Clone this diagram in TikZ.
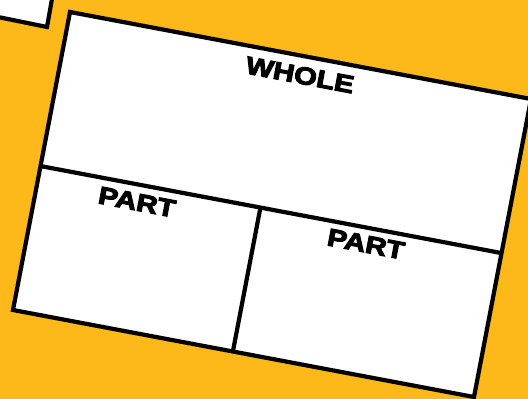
\documentclass[tikz,border=0pt]{standalone}
\usepackage{fontspec}
\setmainfont{Liberation Sans}[FakeStretch=1.2, BoldFeatures={FakeBold=4.5}]
\usetikzlibrary{calc}
\definecolor{bgorange}{HTML}{FDB81A}
\tikzset{
  frame/.style={draw=black, line width=4.2pt, fill=white, line join=miter},
  divider/.style={draw=black, line width=4.2pt},
  label/.style={font=\fontsize{24.5}{28}\selectfont\bfseries, rotate=-10.7, inner sep=0pt}
}
\begin{document}
\begin{tikzpicture}[x=1pt, y=-1pt]
\useasboundingbox (0,0) rectangle (528,399);
\clip (0,0) rectangle (528,399);
\fill[bgorange] (0,0) rectangle (528,399);
% small sheet at the top-left corner
\coordinate (sBR) at (47,27);
\fill[white] (-60,-40) -- (57,-10) -- (sBR) -- (-60,5) -- cycle;
\draw[divider] (52,-1) -- (sBR) -- (-2,17);
% main sheet
\coordinate (TL) at (70,12);
\coordinate (TR) at (531,99);
\coordinate (BR) at (474,397);
\coordinate (BL) at (13,310);
\draw[frame] (TL) -- (TR) -- (BR) -- (BL) -- cycle;
\coordinate (ML) at ($(TL)!0.517!(BL)$);
\coordinate (MR) at ($(TR)!0.517!(BR)$);
\coordinate (MT) at ($(ML)!0.477!(MR)$);
\coordinate (MB) at ($(BL)!0.477!(BR)$);
\draw[divider] (ML) -- (MR);
\draw[divider] (MT) -- (MB);
\node[label] (whole) at (300,75) {WHOLE};
\node[label] (part1) at (137,202) {PART};
\node[label] (part2) at (366,244) {PART};
\end{tikzpicture}
\end{document}
